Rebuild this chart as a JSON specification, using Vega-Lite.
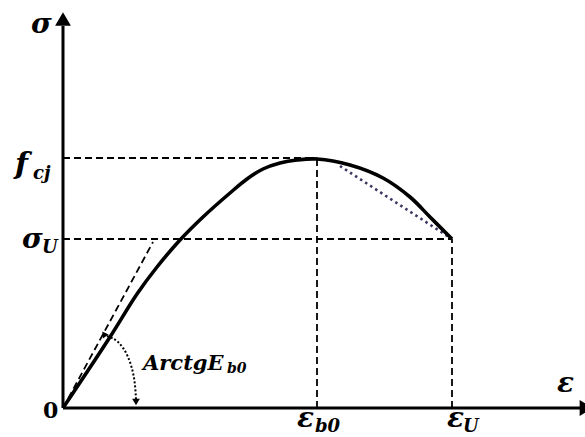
{
  "$schema": "https://vega.github.io/schema/vega-lite/v6.json",
  "width": 585,
  "height": 437,
  "padding": 0,
  "autosize": {"type": "none"},
  "background": "white",
  "config": {"view": {"stroke": null}},
  "datasets": {
    "guides": [
      {"x": 0, "y": 250, "x2": 254, "y2": 250},
      {"x": 0, "y": 169, "x2": 389, "y2": 169},
      {"x": 254, "y": 0, "x2": 254, "y2": 250},
      {"x": 389, "y": 0, "x2": 389, "y2": 169},
      {"x": 0, "y": 0, "x2": 90, "y2": 166}
    ],
    "axes": [
      {"x": 0, "y": 0, "x2": 0, "y2": 382},
      {"x": 0, "y": 0, "x2": 518, "y2": 0}
    ],
    "curve": [
      {"e": 0, "s": 0},
      {"e": 47, "s": 71},
      {"e": 74, "s": 114},
      {"e": 94, "s": 141},
      {"e": 117, "s": 168},
      {"e": 140, "s": 191},
      {"e": 167, "s": 215},
      {"e": 184, "s": 229},
      {"e": 200, "s": 239},
      {"e": 217, "s": 245},
      {"e": 234, "s": 248},
      {"e": 254, "s": 249},
      {"e": 287, "s": 243},
      {"e": 320, "s": 230},
      {"e": 347, "s": 211},
      {"e": 367, "s": 191},
      {"e": 389, "s": 169}
    ],
    "secant": [
      {"e": 277, "s": 242},
      {"e": 389, "s": 169}
    ],
    "arc": [
      {"e": 44, "s": 72},
      {"e": 55, "s": 66},
      {"e": 65, "s": 51},
      {"e": 71, "s": 30},
      {"e": 73, "s": 9}
    ],
    "bigLabels": [
      {"x": -32, "y": 375, "t": "σ"},
      {"x": -41, "y": 160, "t": "σ"},
      {"x": 494, "y": 16, "t": "ε"},
      {"x": 234, "y": -19, "t": "ε"},
      {"x": 384, "y": -19, "t": "ε"}
    ],
    "fLabel": [
      {"x": -48, "y": 234, "t": "f"}
    ],
    "subLabels": [
      {"x": -30, "y": 229, "t": "cj"},
      {"x": -21, "y": 155, "t": "U"},
      {"x": 252, "y": -24, "t": "b0"},
      {"x": 400, "y": -24, "t": "U"}
    ],
    "zeroLabel": [
      {"x": -20, "y": -10, "t": "0"}
    ],
    "arcLabel": [
      {"x": 80, "y": 38, "t": "ArctgE"}
    ],
    "arcSub": [
      {"x": 164, "y": 35, "t": "b0"}
    ]
  },
  "layer": [
    {
      "data": {"name": "guides"},
      "mark": {"type": "rule", "color": "black", "strokeWidth": 1.8, "strokeDash": [7, 4]},
      "encoding": {
        "x": {"field": "x", "type": "quantitative", "scale": {"domain": [-63, 522], "nice": false, "zero": false}, "axis": null},
        "y": {"field": "y", "type": "quantitative", "scale": {"domain": [-29, 408], "nice": false, "zero": false}, "axis": null},
        "x2": {"field": "x2"},
        "y2": {"field": "y2"}
      }
    },
    {
      "data": {"name": "axes"},
      "mark": {"type": "rule", "color": "black", "strokeWidth": 3},
      "encoding": {
        "x": {"field": "x", "type": "quantitative"},
        "y": {"field": "y", "type": "quantitative"},
        "x2": {"field": "x2"},
        "y2": {"field": "y2"}
      }
    },
    {
      "data": {"values": [{"x": 0, "y": 389}]},
      "mark": {"type": "point", "shape": "triangle-up", "filled": true, "color": "black", "opacity": 1, "size": 250},
      "encoding": {
        "x": {"field": "x", "type": "quantitative"},
        "y": {"field": "y", "type": "quantitative"}
      }
    },
    {
      "data": {"values": [{"x": 523.5, "y": 0}]},
      "mark": {"type": "point", "shape": "triangle-right", "filled": true, "color": "black", "opacity": 1, "size": 250},
      "encoding": {
        "x": {"field": "x", "type": "quantitative"},
        "y": {"field": "y", "type": "quantitative"}
      }
    },
    {
      "data": {"name": "secant"},
      "mark": {"type": "line", "color": "#3d3560", "strokeWidth": 2.6, "strokeDash": [2.5, 3.5]},
      "encoding": {
        "x": {"field": "e", "type": "quantitative"},
        "y": {"field": "s", "type": "quantitative"}
      }
    },
    {
      "data": {"name": "curve"},
      "mark": {"type": "line", "color": "black", "strokeWidth": 3.6, "interpolate": "catmull-rom", "strokeJoin": "round"},
      "encoding": {
        "x": {"field": "e", "type": "quantitative"},
        "y": {"field": "s", "type": "quantitative"}
      }
    },
    {
      "data": {"name": "arc"},
      "mark": {"type": "line", "color": "black", "strokeWidth": 2, "strokeDash": [2, 2], "interpolate": "natural"},
      "encoding": {
        "x": {"field": "e", "type": "quantitative"},
        "y": {"field": "s", "type": "quantitative"}
      }
    },
    {
      "data": {"values": [{"x": 73, "y": 6}]},
      "mark": {"type": "point", "shape": "triangle-down", "filled": true, "color": "black", "opacity": 1, "size": 60},
      "encoding": {
        "x": {"field": "x", "type": "quantitative"},
        "y": {"field": "y", "type": "quantitative"}
      }
    },
    {
      "data": {"values": [{"x": 41, "y": 74}]},
      "mark": {"type": "point", "shape": "triangle-up", "filled": true, "color": "black", "opacity": 1, "size": 50, "angle": -35},
      "encoding": {
        "x": {"field": "x", "type": "quantitative"},
        "y": {"field": "y", "type": "quantitative"}
      }
    },
    {
      "data": {"name": "bigLabels"},
      "mark": {"type": "text", "font": "DejaVu Serif", "fontStyle": "italic", "fontWeight": "bold", "fontSize": 28, "align": "left", "baseline": "alphabetic", "color": "black"},
      "encoding": {
        "x": {"field": "x", "type": "quantitative"},
        "y": {"field": "y", "type": "quantitative"},
        "text": {"field": "t"}
      }
    },
    {
      "data": {"name": "fLabel"},
      "mark": {"type": "text", "font": "DejaVu Serif", "fontStyle": "italic", "fontWeight": "bold", "fontSize": 30, "align": "left", "baseline": "alphabetic", "color": "black"},
      "encoding": {
        "x": {"field": "x", "type": "quantitative"},
        "y": {"field": "y", "type": "quantitative"},
        "text": {"field": "t"}
      }
    },
    {
      "data": {"name": "subLabels"},
      "mark": {"type": "text", "font": "DejaVu Serif", "fontStyle": "italic", "fontWeight": "bold", "fontSize": 18, "align": "left", "baseline": "alphabetic", "color": "black"},
      "encoding": {
        "x": {"field": "x", "type": "quantitative"},
        "y": {"field": "y", "type": "quantitative"},
        "text": {"field": "t"}
      }
    },
    {
      "data": {"name": "zeroLabel"},
      "mark": {"type": "text", "font": "DejaVu Serif", "fontWeight": "bold", "fontSize": 22, "align": "left", "baseline": "alphabetic", "color": "black"},
      "encoding": {
        "x": {"field": "x", "type": "quantitative"},
        "y": {"field": "y", "type": "quantitative"},
        "text": {"field": "t"}
      }
    },
    {
      "data": {"name": "arcLabel"},
      "mark": {"type": "text", "font": "DejaVu Serif", "fontStyle": "italic", "fontWeight": "bold", "fontSize": 21, "align": "left", "baseline": "alphabetic", "color": "black"},
      "encoding": {
        "x": {"field": "x", "type": "quantitative"},
        "y": {"field": "y", "type": "quantitative"},
        "text": {"field": "t"}
      }
    },
    {
      "data": {"name": "arcSub"},
      "mark": {"type": "text", "font": "DejaVu Serif", "fontStyle": "italic", "fontWeight": "bold", "fontSize": 14, "align": "left", "baseline": "alphabetic", "color": "black"},
      "encoding": {
        "x": {"field": "x", "type": "quantitative"},
        "y": {"field": "y", "type": "quantitative"},
        "text": {"field": "t"}
      }
    }
  ]
}
